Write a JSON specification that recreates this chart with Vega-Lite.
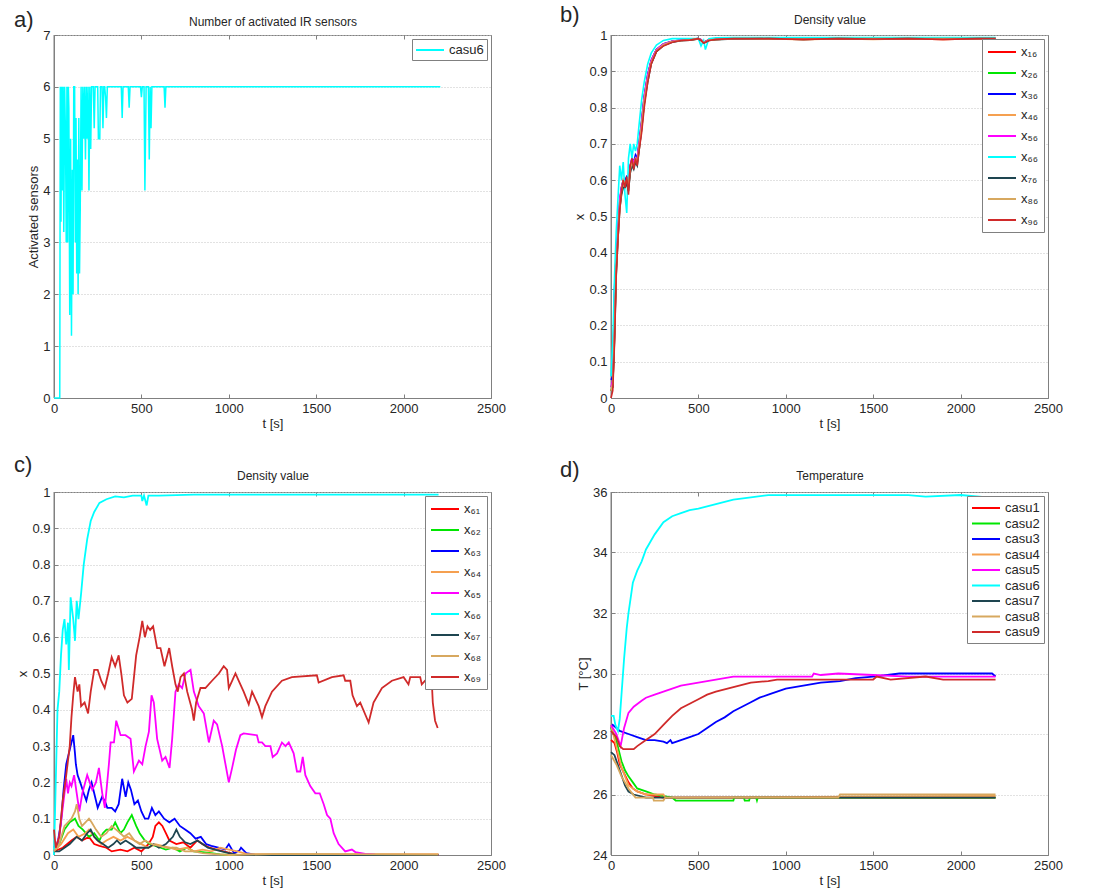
{
"$schema": "https://vega.github.io/schema/vega-lite/v6.json",
"background": "white",
"padding": {"left": 13, "top": 3, "right": 5, "bottom": 5},
"config": {
  "font": "Liberation Sans",
  "view": {"stroke": "#808080", "strokeWidth": 1},
  "axis": {"labelFont": "Liberation Sans", "labelFontSize": 13, "labelColor": "#262626", "titleFont": "Liberation Sans", "titleFontSize": 13, "titleFontWeight": "normal", "titleColor": "#262626", "domainColor": "#808080", "gridColor": "#c4c4c4", "gridDash": [1, 2], "ticks": true, "tickSize": -4, "tickColor": "#808080", "labelPadding": 8, "titlePadding": 2},
  "axisX": {"labelFlush": false, "format": "d"},
  "legend": {"labelFont": "Liberation Sans", "labelFontSize": 13, "labelColor": "#262626", "fillColor": "white", "strokeColor": "#808080", "padding": 5, "orient": "top-right", "offset": 4, "symbolType": "M-1,0H3", "symbolSize": 196, "symbolStrokeWidth": 2, "labelOffset": 18},
  "title": {"font": "Liberation Sans", "fontSize": 22, "fontWeight": "normal", "anchor": "start", "frame": "group", "color": "#262626"}
},
"columns": 2,
"spacing": {"row": 94, "column": 120},
"bounds": "flush",
"resolve": {"scale": {"color": "independent"}, "legend": {"color": "independent"}},
"datasets": {
  "a": [
    {"t":0,"v":0},{"t":25,"v":0},{"t":33,"v":0},{"t":36,"v":6},{"t":40,"v":3.4},{"t":44,"v":6},{"t":48,"v":4},{"t":52,"v":6},{"t":56,"v":3.2},{"t":61,"v":6},{"t":66,"v":5},{"t":70,"v":3},{"t":74,"v":6},{"t":78,"v":3},{"t":82,"v":6},{"t":85,"v":5.6},{"t":90,"v":1.6},{"t":95,"v":5},{"t":100,"v":1.2},{"t":105,"v":4.4},{"t":109,"v":2.0},{"t":113,"v":6},{"t":118,"v":6},{"t":122,"v":3.0},{"t":126,"v":5.4},{"t":130,"v":2.4},{"t":134,"v":4.6},{"t":138,"v":2.0},{"t":142,"v":5.4},{"t":146,"v":2.4},{"t":150,"v":3.6},{"t":155,"v":6},{"t":160,"v":4},{"t":165,"v":6},{"t":170,"v":5},{"t":175,"v":6},{"t":180,"v":4.6},{"t":185,"v":6},{"t":190,"v":5},{"t":195,"v":6},{"t":200,"v":4},{"t":205,"v":6},{"t":210,"v":4.8},{"t":215,"v":6},{"t":225,"v":6},{"t":230,"v":5.2},{"t":235,"v":6},{"t":250,"v":6},{"t":254,"v":5},{"t":262,"v":5},{"t":266,"v":6},{"t":275,"v":6},{"t":280,"v":5.2},{"t":285,"v":6},{"t":290,"v":6},{"t":295,"v":5.8},{"t":300,"v":5.4},{"t":305,"v":6},{"t":385,"v":6},{"t":390,"v":5.4},{"t":395,"v":6},{"t":425,"v":6},{"t":430,"v":5.6},{"t":435,"v":6},{"t":495,"v":6},{"t":500,"v":5.8},{"t":505,"v":6},{"t":515,"v":6},{"t":520,"v":4},{"t":527,"v":6},{"t":540,"v":6},{"t":545,"v":4.6},{"t":550,"v":6},{"t":555,"v":5.2},{"t":560,"v":6},{"t":630,"v":6},{"t":635,"v":5.6},{"t":640,"v":6},{"t":2210,"v":6}
  ],
  "b": [
    {"t":0,"x₁₆":0.02,"x₂₆":0.03,"x₃₆":0.05,"x₄₆":0.02,"x₅₆":0.03,"x₆₆":0.06,"x₇₆":0.02,"x₈₆":0.02,"x₉₆":0.0},
    {"t":10,"x₁₆":0.03,"x₂₆":0.04,"x₃₆":0.06,"x₄₆":0.03,"x₅₆":0.05,"x₆₆":0.15,"x₇₆":0.03,"x₈₆":0.04,"x₉₆":0.02},
    {"t":20,"x₁₆":0.17,"x₂₆":0.2,"x₃₆":0.3,"x₄₆":0.18,"x₅₆":0.22,"x₆₆":0.33,"x₇₆":0.16,"x₈₆":0.19,"x₉₆":0.15},
    {"t":30,"x₁₆":0.36,"x₂₆":0.37,"x₃₆":0.4,"x₄₆":0.35,"x₅₆":0.38,"x₆₆":0.46,"x₇₆":0.34,"x₈₆":0.36,"x₉₆":0.34},
    {"t":40,"x₁₆":0.45,"x₂₆":0.46,"x₃₆":0.47,"x₄₆":0.44,"x₅₆":0.47,"x₆₆":0.55,"x₇₆":0.44,"x₈₆":0.45,"x₉₆":0.44},
    {"t":50,"x₁₆":0.53,"x₂₆":0.54,"x₃₆":0.54,"x₄₆":0.52,"x₅₆":0.55,"x₆₆":0.64,"x₇₆":0.52,"x₈₆":0.53,"x₉₆":0.52},
    {"t":60,"x₁₆":0.57,"x₂₆":0.58,"x₃₆":0.58,"x₄₆":0.56,"x₅₆":0.58,"x₆₆":0.6,"x₇₆":0.56,"x₈₆":0.57,"x₉₆":0.57},
    {"t":70,"x₁₆":0.59,"x₂₆":0.6,"x₃₆":0.6,"x₄₆":0.59,"x₅₆":0.6,"x₆₆":0.65,"x₇₆":0.58,"x₈₆":0.6,"x₉₆":0.6},
    {"t":80,"x₁₆":0.59,"x₂₆":0.58,"x₃₆":0.6,"x₄₆":0.58,"x₅₆":0.59,"x₆₆":0.56,"x₇₆":0.58,"x₈₆":0.59,"x₉₆":0.58},
    {"t":90,"x₁₆":0.6,"x₂₆":0.61,"x₃₆":0.61,"x₄₆":0.6,"x₅₆":0.6,"x₆₆":0.51,"x₇₆":0.59,"x₈₆":0.6,"x₉₆":0.61},
    {"t":100,"x₁₆":0.58,"x₂₆":0.59,"x₃₆":0.6,"x₄₆":0.58,"x₅₆":0.6,"x₆₆":0.66,"x₇₆":0.57,"x₈₆":0.59,"x₉₆":0.56},
    {"t":110,"x₁₆":0.63,"x₂₆":0.63,"x₃₆":0.64,"x₄₆":0.62,"x₅₆":0.64,"x₆₆":0.7,"x₇₆":0.62,"x₈₆":0.63,"x₉₆":0.64},
    {"t":120,"x₁₆":0.65,"x₂₆":0.65,"x₃₆":0.66,"x₄₆":0.65,"x₅₆":0.66,"x₆₆":0.66,"x₇₆":0.64,"x₈₆":0.65,"x₉₆":0.66},
    {"t":130,"x₁₆":0.64,"x₂₆":0.65,"x₃₆":0.65,"x₄₆":0.64,"x₅₆":0.65,"x₆₆":0.7,"x₇₆":0.63,"x₈₆":0.64,"x₉₆":0.63},
    {"t":140,"x₁₆":0.66,"x₂₆":0.66,"x₃₆":0.67,"x₄₆":0.65,"x₅₆":0.66,"x₆₆":0.68,"x₇₆":0.65,"x₈₆":0.66,"x₉₆":0.66},
    {"t":150,"x₁₆":0.65,"x₂₆":0.66,"x₃₆":0.66,"x₄₆":0.65,"x₅₆":0.66,"x₆₆":0.7,"x₇₆":0.64,"x₈₆":0.65,"x₉₆":0.64},
    {"t":160,"x₁₆":0.69,"x₂₆":0.7,"x₃₆":0.7,"x₄₆":0.68,"x₅₆":0.7,"x₆₆":0.75,"x₇₆":0.68,"x₈₆":0.69,"x₉₆":0.68},
    {"t":175,"x₁₆":0.75,"x₂₆":0.76,"x₃₆":0.76,"x₄₆":0.74,"x₅₆":0.76,"x₆₆":0.82,"x₇₆":0.74,"x₈₆":0.75,"x₉₆":0.73},
    {"t":190,"x₁₆":0.82,"x₂₆":0.83,"x₃₆":0.83,"x₄₆":0.81,"x₅₆":0.83,"x₆₆":0.87,"x₇₆":0.81,"x₈₆":0.82,"x₉₆":0.8},
    {"t":210,"x₁₆":0.88,"x₂₆":0.89,"x₃₆":0.89,"x₄₆":0.88,"x₅₆":0.89,"x₆₆":0.92,"x₇₆":0.87,"x₈₆":0.88,"x₉₆":0.87},
    {"t":230,"x₁₆":0.925,"x₂₆":0.93,"x₃₆":0.93,"x₄₆":0.92,"x₅₆":0.93,"x₆₆":0.95,"x₇₆":0.92,"x₈₆":0.925,"x₉₆":0.92},
    {"t":260,"x₁₆":0.957,"x₂₆":0.96,"x₃₆":0.96,"x₄₆":0.955,"x₅₆":0.96,"x₆₆":0.972,"x₇₆":0.954,"x₈₆":0.957,"x₉₆":0.955},
    {"t":300,"x₁₆":0.973,"x₂₆":0.975,"x₃₆":0.975,"x₄₆":0.972,"x₅₆":0.975,"x₆₆":0.985,"x₇₆":0.971,"x₈₆":0.973,"x₉₆":0.97},
    {"t":350,"x₁₆":0.982,"x₂₆":0.983,"x₃₆":0.983,"x₄₆":0.981,"x₅₆":0.983,"x₆₆":0.99,"x₇₆":0.98,"x₈₆":0.982,"x₉₆":0.98},
    {"t":400,"x₁₆":0.985,"x₂₆":0.986,"x₃₆":0.986,"x₄₆":0.985,"x₅₆":0.986,"x₆₆":0.99,"x₇₆":0.984,"x₈₆":0.985,"x₉₆":0.985},
    {"t":450,"x₁₆":0.987,"x₂₆":0.988,"x₃₆":0.988,"x₄₆":0.986,"x₅₆":0.988,"x₆₆":0.99,"x₇₆":0.986,"x₈₆":0.987,"x₉₆":0.986},
    {"t":500,"x₁₆":0.99,"x₂₆":0.99,"x₃₆":0.99,"x₄₆":0.989,"x₅₆":0.99,"x₆₆":0.99,"x₇₆":0.989,"x₈₆":0.99,"x₉₆":0.99},
    {"t":515,"x₁₆":0.986,"x₂₆":0.987,"x₃₆":0.987,"x₄₆":0.985,"x₅₆":0.987,"x₆₆":0.97,"x₇₆":0.985,"x₈₆":0.986,"x₉₆":0.985},
    {"t":530,"x₁₆":0.979,"x₂₆":0.98,"x₃₆":0.98,"x₄₆":0.978,"x₅₆":0.98,"x₆₆":0.985,"x₇₆":0.978,"x₈₆":0.979,"x₉₆":0.978},
    {"t":540,"x₁₆":0.981,"x₂₆":0.982,"x₃₆":0.982,"x₄₆":0.98,"x₅₆":0.982,"x₆₆":0.96,"x₇₆":0.98,"x₈₆":0.981,"x₉₆":0.98},
    {"t":560,"x₁₆":0.986,"x₂₆":0.987,"x₃₆":0.987,"x₄₆":0.985,"x₅₆":0.987,"x₆₆":0.99,"x₇₆":0.985,"x₈₆":0.986,"x₉₆":0.985},
    {"t":600,"x₁₆":0.988,"x₂₆":0.989,"x₃₆":0.989,"x₄₆":0.988,"x₅₆":0.989,"x₆₆":0.992,"x₇₆":0.987,"x₈₆":0.988,"x₉₆":0.988},
    {"t":700,"x₁₆":0.99,"x₂₆":0.99,"x₃₆":0.99,"x₄₆":0.989,"x₅₆":0.99,"x₆₆":0.993,"x₇₆":0.989,"x₈₆":0.99,"x₉₆":0.99},
    {"t":900,"x₁₆":0.99,"x₂₆":0.991,"x₃₆":0.991,"x₄₆":0.99,"x₅₆":0.991,"x₆₆":0.993,"x₇₆":0.99,"x₈₆":0.99,"x₉₆":0.99},
    {"t":1100,"x₁₆":0.988,"x₂₆":0.99,"x₃₆":0.99,"x₄₆":0.987,"x₅₆":0.99,"x₆₆":0.993,"x₇₆":0.988,"x₈₆":0.989,"x₉₆":0.988},
    {"t":1300,"x₁₆":0.99,"x₂₆":0.991,"x₃₆":0.991,"x₄₆":0.99,"x₅₆":0.991,"x₆₆":0.993,"x₇₆":0.99,"x₈₆":0.99,"x₉₆":0.99},
    {"t":1500,"x₁₆":0.989,"x₂₆":0.99,"x₃₆":0.99,"x₄₆":0.988,"x₅₆":0.99,"x₆₆":0.993,"x₇₆":0.989,"x₈₆":0.99,"x₉₆":0.989},
    {"t":1700,"x₁₆":0.99,"x₂₆":0.991,"x₃₆":0.991,"x₄₆":0.99,"x₅₆":0.991,"x₆₆":0.993,"x₇₆":0.99,"x₈₆":0.99,"x₉₆":0.99},
    {"t":1900,"x₁₆":0.988,"x₂₆":0.99,"x₃₆":0.99,"x₄₆":0.988,"x₅₆":0.99,"x₆₆":0.993,"x₇₆":0.989,"x₈₆":0.99,"x₉₆":0.988},
    {"t":2100,"x₁₆":0.99,"x₂₆":0.991,"x₃₆":0.991,"x₄₆":0.99,"x₅₆":0.991,"x₆₆":0.993,"x₇₆":0.99,"x₈₆":0.99,"x₉₆":0.99},
    {"t":2200,"x₁₆":0.99,"x₂₆":0.99,"x₃₆":0.99,"x₄₆":0.99,"x₅₆":0.99,"x₆₆":0.993,"x₇₆":0.99,"x₈₆":0.99,"x₉₆":0.99}
  ],
  "c": [
    {"s":"x₆₁","t":0,"v":0.01},{"s":"x₆₁","t":50,"v":0.02},{"s":"x₆₁","t":100,"v":0.04},{"s":"x₆₁","t":130,"v":0.05},{"s":"x₆₁","t":160,"v":0.04},{"s":"x₆₁","t":200,"v":0.05},{"s":"x₆₁","t":230,"v":0.03},{"s":"x₆₁","t":260,"v":0.025},{"s":"x₆₁","t":300,"v":0.02},{"s":"x₆₁","t":330,"v":0.01},{"s":"x₆₁","t":380,"v":0.015},{"s":"x₆₁","t":420,"v":0.01},{"s":"x₆₁","t":460,"v":0.02},{"s":"x₆₁","t":500,"v":0.01},{"s":"x₆₁","t":540,"v":0.03},{"s":"x₆₁","t":565,"v":0.05},{"s":"x₆₁","t":580,"v":0.08},{"s":"x₆₁","t":600,"v":0.09},{"s":"x₆₁","t":620,"v":0.08},{"s":"x₆₁","t":640,"v":0.06},{"s":"x₆₁","t":660,"v":0.04},{"s":"x₆₁","t":700,"v":0.03},{"s":"x₆₁","t":740,"v":0.035},{"s":"x₆₁","t":780,"v":0.02},{"s":"x₆₁","t":820,"v":0.04},{"s":"x₆₁","t":850,"v":0.03},{"s":"x₆₁","t":890,"v":0.02},{"s":"x₆₁","t":930,"v":0.015},{"s":"x₆₁","t":970,"v":0.01},{"s":"x₆₁","t":1010,"v":0.005},{"s":"x₆₁","t":1050,"v":0},{"s":"x₆₁","t":2200,"v":0},
    {"s":"x₆₂","t":0,"v":0.01},{"s":"x₆₂","t":30,"v":0.03},{"s":"x₆₂","t":60,"v":0.07},{"s":"x₆₂","t":90,"v":0.09},{"s":"x₆₂","t":120,"v":0.1},{"s":"x₆₂","t":140,"v":0.08},{"s":"x₆₂","t":165,"v":0.07},{"s":"x₆₂","t":200,"v":0.05},{"s":"x₆₂","t":230,"v":0.06},{"s":"x₆₂","t":260,"v":0.04},{"s":"x₆₂","t":280,"v":0.06},{"s":"x₆₂","t":300,"v":0.07},{"s":"x₆₂","t":330,"v":0.07},{"s":"x₆₂","t":350,"v":0.09},{"s":"x₆₂","t":380,"v":0.06},{"s":"x₆₂","t":400,"v":0.07},{"s":"x₆₂","t":420,"v":0.09},{"s":"x₆₂","t":445,"v":0.11},{"s":"x₆₂","t":470,"v":0.08},{"s":"x₆₂","t":490,"v":0.06},{"s":"x₆₂","t":520,"v":0.04},{"s":"x₆₂","t":550,"v":0.03},{"s":"x₆₂","t":580,"v":0.025},{"s":"x₆₂","t":610,"v":0.02},{"s":"x₆₂","t":640,"v":0.015},{"s":"x₆₂","t":680,"v":0.02},{"s":"x₆₂","t":720,"v":0.01},{"s":"x₆₂","t":760,"v":0.02},{"s":"x₆₂","t":800,"v":0.01},{"s":"x₆₂","t":850,"v":0.008},{"s":"x₆₂","t":900,"v":0.005},{"s":"x₆₂","t":950,"v":0.002},{"s":"x₆₂","t":1000,"v":0},{"s":"x₆₂","t":2200,"v":0},
    {"s":"x₆₃","t":0,"v":0.02},{"s":"x₆₃","t":20,"v":0.03},{"s":"x₆₃","t":40,"v":0.09},{"s":"x₆₃","t":55,"v":0.18},{"s":"x₆₃","t":70,"v":0.25},{"s":"x₆₃","t":80,"v":0.27},{"s":"x₆₃","t":95,"v":0.3},{"s":"x₆₃","t":110,"v":0.33},{"s":"x₆₃","t":120,"v":0.28},{"s":"x₆₃","t":125,"v":0.25},{"s":"x₆₃","t":135,"v":0.22},{"s":"x₆₃","t":150,"v":0.2},{"s":"x₆₃","t":170,"v":0.17},{"s":"x₆₃","t":185,"v":0.15},{"s":"x₆₃","t":200,"v":0.18},{"s":"x₆₃","t":215,"v":0.2},{"s":"x₆₃","t":230,"v":0.17},{"s":"x₆₃","t":250,"v":0.13},{"s":"x₆₃","t":275,"v":0.16},{"s":"x₆₃","t":290,"v":0.15},{"s":"x₆₃","t":305,"v":0.13},{"s":"x₆₃","t":330,"v":0.13},{"s":"x₆₃","t":350,"v":0.12},{"s":"x₆₃","t":370,"v":0.14},{"s":"x₆₃","t":390,"v":0.21},{"s":"x₆₃","t":410,"v":0.16},{"s":"x₆₃","t":425,"v":0.2},{"s":"x₆₃","t":440,"v":0.18},{"s":"x₆₃","t":460,"v":0.14},{"s":"x₆₃","t":480,"v":0.15},{"s":"x₆₃","t":500,"v":0.12},{"s":"x₆₃","t":520,"v":0.1},{"s":"x₆₃","t":540,"v":0.1},{"s":"x₆₃","t":560,"v":0.13},{"s":"x₆₃","t":580,"v":0.11},{"s":"x₆₃","t":600,"v":0.12},{"s":"x₆₃","t":630,"v":0.1},{"s":"x₆₃","t":660,"v":0.09},{"s":"x₆₃","t":690,"v":0.1},{"s":"x₆₃","t":720,"v":0.08},{"s":"x₆₃","t":750,"v":0.07},{"s":"x₆₃","t":780,"v":0.06},{"s":"x₆₃","t":810,"v":0.045},{"s":"x₆₃","t":840,"v":0.05},{"s":"x₆₃","t":870,"v":0.03},{"s":"x₆₃","t":900,"v":0.025},{"s":"x₆₃","t":940,"v":0.02},{"s":"x₆₃","t":980,"v":0.015},{"s":"x₆₃","t":1000,"v":0.03},{"s":"x₆₃","t":1030,"v":0.005},{"s":"x₆₃","t":1060,"v":0.012},{"s":"x₆₃","t":1070,"v":0.02},{"s":"x₆₃","t":1100,"v":0.005},{"s":"x₆₃","t":1150,"v":0.001},{"s":"x₆₃","t":1200,"v":0},{"s":"x₆₃","t":2200,"v":0},
    {"s":"x₆₄","t":0,"v":0.01},{"s":"x₆₄","t":40,"v":0.03},{"s":"x₆₄","t":80,"v":0.06},{"s":"x₆₄","t":110,"v":0.07},{"s":"x₆₄","t":140,"v":0.05},{"s":"x₆₄","t":180,"v":0.06},{"s":"x₆₄","t":200,"v":0.07},{"s":"x₆₄","t":230,"v":0.05},{"s":"x₆₄","t":270,"v":0.03},{"s":"x₆₄","t":300,"v":0.04},{"s":"x₆₄","t":340,"v":0.05},{"s":"x₆₄","t":380,"v":0.04},{"s":"x₆₄","t":420,"v":0.05},{"s":"x₆₄","t":460,"v":0.04},{"s":"x₆₄","t":500,"v":0.03},{"s":"x₆₄","t":540,"v":0.02},{"s":"x₆₄","t":580,"v":0.03},{"s":"x₆₄","t":620,"v":0.025},{"s":"x₆₄","t":660,"v":0.02},{"s":"x₆₄","t":700,"v":0.015},{"s":"x₆₄","t":760,"v":0.02},{"s":"x₆₄","t":800,"v":0.01},{"s":"x₆₄","t":850,"v":0.015},{"s":"x₆₄","t":900,"v":0.01},{"s":"x₆₄","t":950,"v":0.02},{"s":"x₆₄","t":1000,"v":0.015},{"s":"x₆₄","t":1050,"v":0.01},{"s":"x₆₄","t":1100,"v":0.003},{"s":"x₆₄","t":1150,"v":0.002},{"s":"x₆₄","t":2200,"v":0.002},
    {"s":"x₆₅","t":0,"v":0.01},{"s":"x₆₅","t":30,"v":0.05},{"s":"x₆₅","t":50,"v":0.13},{"s":"x₆₅","t":70,"v":0.21},{"s":"x₆₅","t":80,"v":0.17},{"s":"x₆₅","t":90,"v":0.2},{"s":"x₆₅","t":100,"v":0.19},{"s":"x₆₅","t":115,"v":0.22},{"s":"x₆₅","t":130,"v":0.17},{"s":"x₆₅","t":145,"v":0.12},{"s":"x₆₅","t":162,"v":0.17},{"s":"x₆₅","t":190,"v":0.22},{"s":"x₆₅","t":219,"v":0.18},{"s":"x₆₅","t":240,"v":0.2},{"s":"x₆₅","t":257,"v":0.24},{"s":"x₆₅","t":276,"v":0.17},{"s":"x₆₅","t":291,"v":0.13},{"s":"x₆₅","t":314,"v":0.25},{"s":"x₆₅","t":324,"v":0.31},{"s":"x₆₅","t":343,"v":0.31},{"s":"x₆₅","t":356,"v":0.37},{"s":"x₆₅","t":381,"v":0.33},{"s":"x₆₅","t":409,"v":0.33},{"s":"x₆₅","t":438,"v":0.32},{"s":"x₆₅","t":457,"v":0.23},{"s":"x₆₅","t":486,"v":0.26},{"s":"x₆₅","t":505,"v":0.25},{"s":"x₆₅","t":524,"v":0.3},{"s":"x₆₅","t":543,"v":0.34},{"s":"x₆₅","t":558,"v":0.44},{"s":"x₆₅","t":571,"v":0.42},{"s":"x₆₅","t":590,"v":0.32},{"s":"x₆₅","t":619,"v":0.26},{"s":"x₆₅","t":638,"v":0.27},{"s":"x₆₅","t":661,"v":0.24},{"s":"x₆₅","t":676,"v":0.32},{"s":"x₆₅","t":695,"v":0.45},{"s":"x₆₅","t":714,"v":0.47},{"s":"x₆₅","t":733,"v":0.46},{"s":"x₆₅","t":752,"v":0.5},{"s":"x₆₅","t":781,"v":0.51},{"s":"x₆₅","t":800,"v":0.45},{"s":"x₆₅","t":828,"v":0.41},{"s":"x₆₅","t":857,"v":0.39},{"s":"x₆₅","t":886,"v":0.31},{"s":"x₆₅","t":914,"v":0.37},{"s":"x₆₅","t":933,"v":0.36},{"s":"x₆₅","t":962,"v":0.3},{"s":"x₆₅","t":1000,"v":0.2},{"s":"x₆₅","t":1019,"v":0.24},{"s":"x₆₅","t":1041,"v":0.29},{"s":"x₆₅","t":1066,"v":0.33},{"s":"x₆₅","t":1085,"v":0.335},{"s":"x₆₅","t":1161,"v":0.33},{"s":"x₆₅","t":1171,"v":0.31},{"s":"x₆₅","t":1190,"v":0.31},{"s":"x₆₅","t":1209,"v":0.3},{"s":"x₆₅","t":1238,"v":0.3},{"s":"x₆₅","t":1251,"v":0.27},{"s":"x₆₅","t":1276,"v":0.28},{"s":"x₆₅","t":1304,"v":0.31},{"s":"x₆₅","t":1324,"v":0.3},{"s":"x₆₅","t":1343,"v":0.31},{"s":"x₆₅","t":1371,"v":0.28},{"s":"x₆₅","t":1390,"v":0.23},{"s":"x₆₅","t":1409,"v":0.23},{"s":"x₆₅","t":1423,"v":0.27},{"s":"x₆₅","t":1438,"v":0.22},{"s":"x₆₅","t":1466,"v":0.19},{"s":"x₆₅","t":1495,"v":0.17},{"s":"x₆₅","t":1520,"v":0.17},{"s":"x₆₅","t":1543,"v":0.14},{"s":"x₆₅","t":1562,"v":0.11},{"s":"x₆₅","t":1581,"v":0.1},{"s":"x₆₅","t":1600,"v":0.06},{"s":"x₆₅","t":1628,"v":0.03},{"s":"x₆₅","t":1666,"v":0.01},{"s":"x₆₅","t":1704,"v":0.015},{"s":"x₆₅","t":1724,"v":0.008},{"s":"x₆₅","t":1781,"v":0.003},{"s":"x₆₅","t":1838,"v":0.001},{"s":"x₆₅","t":2200,"v":0},
    {"s":"x₆₆","t":0,"v":0},{"s":"x₆₆","t":10,"v":0.2},{"s":"x₆₆","t":20,"v":0.4},{"s":"x₆₆","t":30,"v":0.45},{"s":"x₆₆","t":40,"v":0.55},{"s":"x₆₆","t":50,"v":0.62},{"s":"x₆₆","t":60,"v":0.65},{"s":"x₆₆","t":70,"v":0.58},{"s":"x₆₆","t":80,"v":0.64},{"s":"x₆₆","t":85,"v":0.51},{"s":"x₆₆","t":95,"v":0.71},{"s":"x₆₆","t":110,"v":0.65},{"s":"x₆₆","t":120,"v":0.59},{"s":"x₆₆","t":130,"v":0.7},{"s":"x₆₆","t":140,"v":0.65},{"s":"x₆₆","t":155,"v":0.72},{"s":"x₆₆","t":170,"v":0.8},{"s":"x₆₆","t":190,"v":0.87},{"s":"x₆₆","t":210,"v":0.92},{"s":"x₆₆","t":230,"v":0.945},{"s":"x₆₆","t":260,"v":0.97},{"s":"x₆₆","t":300,"v":0.98},{"s":"x₆₆","t":350,"v":0.988},{"s":"x₆₆","t":400,"v":0.985},{"s":"x₆₆","t":450,"v":0.99},{"s":"x₆₆","t":500,"v":0.99},{"s":"x₆₆","t":505,"v":0.975},{"s":"x₆₆","t":515,"v":0.99},{"s":"x₆₆","t":530,"v":0.963},{"s":"x₆₆","t":540,"v":0.99},{"s":"x₆₆","t":600,"v":0.99},{"s":"x₆₆","t":800,"v":0.993},{"s":"x₆₆","t":2200,"v":0.993},
    {"s":"x₆₇","t":0,"v":0.01},{"s":"x₆₇","t":30,"v":0.01},{"s":"x₆₇","t":60,"v":0.02},{"s":"x₆₇","t":90,"v":0.03},{"s":"x₆₇","t":110,"v":0.04},{"s":"x₆₇","t":130,"v":0.05},{"s":"x₆₇","t":160,"v":0.04},{"s":"x₆₇","t":190,"v":0.06},{"s":"x₆₇","t":210,"v":0.07},{"s":"x₆₇","t":230,"v":0.05},{"s":"x₆₇","t":250,"v":0.04},{"s":"x₆₇","t":280,"v":0.03},{"s":"x₆₇","t":310,"v":0.02},{"s":"x₆₇","t":340,"v":0.03},{"s":"x₆₇","t":360,"v":0.04},{"s":"x₆₇","t":380,"v":0.03},{"s":"x₆₇","t":410,"v":0.04},{"s":"x₆₇","t":440,"v":0.03},{"s":"x₆₇","t":470,"v":0.02},{"s":"x₆₇","t":500,"v":0.02},{"s":"x₆₇","t":540,"v":0.02},{"s":"x₆₇","t":570,"v":0.03},{"s":"x₆₇","t":600,"v":0.02},{"s":"x₆₇","t":640,"v":0.03},{"s":"x₆₇","t":680,"v":0.05},{"s":"x₆₇","t":700,"v":0.07},{"s":"x₆₇","t":720,"v":0.05},{"s":"x₆₇","t":750,"v":0.035},{"s":"x₆₇","t":780,"v":0.03},{"s":"x₆₇","t":820,"v":0.04},{"s":"x₆₇","t":850,"v":0.03},{"s":"x₆₇","t":880,"v":0.02},{"s":"x₆₇","t":920,"v":0.015},{"s":"x₆₇","t":960,"v":0.01},{"s":"x₆₇","t":1000,"v":0.005},{"s":"x₆₇","t":1050,"v":0},{"s":"x₆₇","t":2200,"v":0},
    {"s":"x₆₈","t":0,"v":0.01},{"s":"x₆₈","t":30,"v":0.03},{"s":"x₆₈","t":60,"v":0.08},{"s":"x₆₈","t":80,"v":0.09},{"s":"x₆₈","t":100,"v":0.1},{"s":"x₆₈","t":120,"v":0.12},{"s":"x₆₈","t":130,"v":0.14},{"s":"x₆₈","t":145,"v":0.1},{"s":"x₆₈","t":160,"v":0.08},{"s":"x₆₈","t":180,"v":0.09},{"s":"x₆₈","t":200,"v":0.1},{"s":"x₆₈","t":215,"v":0.09},{"s":"x₆₈","t":240,"v":0.07},{"s":"x₆₈","t":270,"v":0.05},{"s":"x₆₈","t":300,"v":0.06},{"s":"x₆₈","t":330,"v":0.08},{"s":"x₆₈","t":355,"v":0.07},{"s":"x₆₈","t":380,"v":0.06},{"s":"x₆₈","t":400,"v":0.05},{"s":"x₆₈","t":430,"v":0.06},{"s":"x₆₈","t":460,"v":0.04},{"s":"x₆₈","t":490,"v":0.03},{"s":"x₆₈","t":520,"v":0.04},{"s":"x₆₈","t":560,"v":0.03},{"s":"x₆₈","t":600,"v":0.025},{"s":"x₆₈","t":650,"v":0.02},{"s":"x₆₈","t":700,"v":0.02},{"s":"x₆₈","t":750,"v":0.01},{"s":"x₆₈","t":800,"v":0.01},{"s":"x₆₈","t":850,"v":0.005},{"s":"x₆₈","t":900,"v":0.003},{"s":"x₆₈","t":1000,"v":0},{"s":"x₆₈","t":1300,"v":0.003},{"s":"x₆₈","t":2200,"v":0.001},
    {"s":"x₆₉","t":0,"v":0.07},{"s":"x₆₉","t":10,"v":0.02},{"s":"x₆₉","t":30,"v":0.05},{"s":"x₆₉","t":50,"v":0.15},{"s":"x₆₉","t":70,"v":0.22},{"s":"x₆₉","t":90,"v":0.3},{"s":"x₆₉","t":100,"v":0.38},{"s":"x₆₉","t":110,"v":0.44},{"s":"x₆₉","t":120,"v":0.49},{"s":"x₆₉","t":135,"v":0.45},{"s":"x₆₉","t":145,"v":0.47},{"s":"x₆₉","t":155,"v":0.41},{"s":"x₆₉","t":175,"v":0.42},{"s":"x₆₉","t":195,"v":0.39},{"s":"x₆₉","t":210,"v":0.45},{"s":"x₆₉","t":230,"v":0.51},{"s":"x₆₉","t":250,"v":0.51},{"s":"x₆₉","t":270,"v":0.48},{"s":"x₆₉","t":290,"v":0.46},{"s":"x₆₉","t":310,"v":0.5},{"s":"x₆₉","t":330,"v":0.545},{"s":"x₆₉","t":350,"v":0.52},{"s":"x₆₉","t":370,"v":0.55},{"s":"x₆₉","t":385,"v":0.5},{"s":"x₆₉","t":400,"v":0.44},{"s":"x₆₉","t":420,"v":0.42},{"s":"x₆₉","t":445,"v":0.43},{"s":"x₆₉","t":470,"v":0.55},{"s":"x₆₉","t":490,"v":0.6},{"s":"x₆₉","t":505,"v":0.645},{"s":"x₆₉","t":520,"v":0.6},{"s":"x₆₉","t":535,"v":0.63},{"s":"x₆₉","t":550,"v":0.62},{"s":"x₆₉","t":567,"v":0.63},{"s":"x₆₉","t":590,"v":0.57},{"s":"x₆₉","t":609,"v":0.57},{"s":"x₆₉","t":632,"v":0.52},{"s":"x₆₉","t":659,"v":0.57},{"s":"x₆₉","t":676,"v":0.52},{"s":"x₆₉","t":695,"v":0.47},{"s":"x₆₉","t":708,"v":0.45},{"s":"x₆₉","t":724,"v":0.49},{"s":"x₆₉","t":743,"v":0.5},{"s":"x₆₉","t":762,"v":0.45},{"s":"x₆₉","t":790,"v":0.4},{"s":"x₆₉","t":800,"v":0.37},{"s":"x₆₉","t":813,"v":0.42},{"s":"x₆₉","t":838,"v":0.46},{"s":"x₆₉","t":866,"v":0.46},{"s":"x₆₉","t":904,"v":0.48},{"s":"x₆₉","t":943,"v":0.5},{"s":"x₆₉","t":971,"v":0.52},{"s":"x₆₉","t":990,"v":0.51},{"s":"x₆₉","t":1000,"v":0.46},{"s":"x₆₉","t":1019,"v":0.48},{"s":"x₆₉","t":1038,"v":0.5},{"s":"x₆₉","t":1057,"v":0.48},{"s":"x₆₉","t":1085,"v":0.45},{"s":"x₆₉","t":1114,"v":0.415},{"s":"x₆₉","t":1133,"v":0.45},{"s":"x₆₉","t":1152,"v":0.43},{"s":"x₆₉","t":1171,"v":0.41},{"s":"x₆₉","t":1190,"v":0.38},{"s":"x₆₉","t":1209,"v":0.41},{"s":"x₆₉","t":1247,"v":0.45},{"s":"x₆₉","t":1304,"v":0.48},{"s":"x₆₉","t":1361,"v":0.49},{"s":"x₆₉","t":1504,"v":0.495},{"s":"x₆₉","t":1514,"v":0.475},{"s":"x₆₉","t":1590,"v":0.49},{"s":"x₆₉","t":1657,"v":0.495},{"s":"x₆₉","t":1666,"v":0.48},{"s":"x₆₉","t":1695,"v":0.48},{"s":"x₆₉","t":1708,"v":0.44},{"s":"x₆₉","t":1733,"v":0.41},{"s":"x₆₉","t":1752,"v":0.42},{"s":"x₆₉","t":1800,"v":0.365},{"s":"x₆₉","t":1828,"v":0.42},{"s":"x₆₉","t":1876,"v":0.46},{"s":"x₆₉","t":1933,"v":0.48},{"s":"x₆₉","t":2000,"v":0.49},{"s":"x₆₉","t":2028,"v":0.47},{"s":"x₆₉","t":2038,"v":0.49},{"s":"x₆₉","t":2095,"v":0.49},{"s":"x₆₉","t":2104,"v":0.47},{"s":"x₆₉","t":2123,"v":0.48},{"s":"x₆₉","t":2161,"v":0.48},{"s":"x₆₉","t":2167,"v":0.42},{"s":"x₆₉","t":2180,"v":0.37},{"s":"x₆₉","t":2195,"v":0.35}
  ],
  "d": [
    {"s":"casu1","t":0,"v":27.8},{"s":"casu1","t":20,"v":27.7},{"s":"casu1","t":35,"v":27.4},{"s":"casu1","t":50,"v":27.0},{"s":"casu1","t":75,"v":26.7},{"s":"casu1","t":100,"v":26.4},{"s":"casu1","t":125,"v":26.2},{"s":"casu1","t":150,"v":26.1},{"s":"casu1","t":200,"v":26.0},{"s":"casu1","t":300,"v":25.9},{"s":"casu1","t":800,"v":25.9},{"s":"casu1","t":2200,"v":25.9},
    {"s":"casu2","t":0,"v":28.2},{"s":"casu2","t":30,"v":27.8},{"s":"casu2","t":60,"v":27.1},{"s":"casu2","t":80,"v":26.8},{"s":"casu2","t":100,"v":26.6},{"s":"casu2","t":125,"v":26.4},{"s":"casu2","t":150,"v":26.2},{"s":"casu2","t":200,"v":26.1},{"s":"casu2","t":250,"v":26.0},{"s":"casu2","t":350,"v":25.9},{"s":"casu2","t":370,"v":25.8},{"s":"casu2","t":700,"v":25.8},{"s":"casu2","t":705,"v":25.9},{"s":"casu2","t":760,"v":25.9},{"s":"casu2","t":765,"v":25.8},{"s":"casu2","t":790,"v":25.8},{"s":"casu2","t":795,"v":25.9},{"s":"casu2","t":830,"v":25.9},{"s":"casu2","t":835,"v":25.8},{"s":"casu2","t":840,"v":25.9},{"s":"casu2","t":2200,"v":25.9},
    {"s":"casu3","t":0,"v":28.2},{"s":"casu3","t":10,"v":28.3},{"s":"casu3","t":50,"v":28.1},{"s":"casu3","t":100,"v":28.0},{"s":"casu3","t":150,"v":27.9},{"s":"casu3","t":200,"v":27.8},{"s":"casu3","t":250,"v":27.8},{"s":"casu3","t":300,"v":27.75},{"s":"casu3","t":320,"v":27.7},{"s":"casu3","t":340,"v":27.8},{"s":"casu3","t":350,"v":27.7},{"s":"casu3","t":400,"v":27.8},{"s":"casu3","t":450,"v":27.9},{"s":"casu3","t":500,"v":28.0},{"s":"casu3","t":550,"v":28.2},{"s":"casu3","t":600,"v":28.4},{"s":"casu3","t":650,"v":28.55},{"s":"casu3","t":700,"v":28.75},{"s":"casu3","t":750,"v":28.9},{"s":"casu3","t":800,"v":29.05},{"s":"casu3","t":850,"v":29.2},{"s":"casu3","t":900,"v":29.3},{"s":"casu3","t":950,"v":29.4},{"s":"casu3","t":1000,"v":29.5},{"s":"casu3","t":1100,"v":29.6},{"s":"casu3","t":1200,"v":29.7},{"s":"casu3","t":1310,"v":29.75},{"s":"casu3","t":1400,"v":29.85},{"s":"casu3","t":1500,"v":29.9},{"s":"casu3","t":1650,"v":30.0},{"s":"casu3","t":2180,"v":30.0},{"s":"casu3","t":2200,"v":29.9},
    {"s":"casu4","t":0,"v":28.3},{"s":"casu4","t":30,"v":27.6},{"s":"casu4","t":60,"v":26.9},{"s":"casu4","t":100,"v":26.3},{"s":"casu4","t":150,"v":26.1},{"s":"casu4","t":200,"v":26.0},{"s":"casu4","t":300,"v":26.0},{"s":"casu4","t":310,"v":25.9},{"s":"casu4","t":2200,"v":25.95},
    {"s":"casu5","t":0,"v":28.3},{"s":"casu5","t":30,"v":28.0},{"s":"casu5","t":55,"v":27.6},{"s":"casu5","t":75,"v":28.2},{"s":"casu5","t":100,"v":28.7},{"s":"casu5","t":130,"v":28.9},{"s":"casu5","t":175,"v":29.1},{"s":"casu5","t":200,"v":29.2},{"s":"casu5","t":250,"v":29.3},{"s":"casu5","t":300,"v":29.4},{"s":"casu5","t":350,"v":29.5},{"s":"casu5","t":400,"v":29.6},{"s":"casu5","t":500,"v":29.7},{"s":"casu5","t":600,"v":29.8},{"s":"casu5","t":700,"v":29.9},{"s":"casu5","t":1150,"v":29.9},{"s":"casu5","t":1160,"v":30.0},{"s":"casu5","t":1200,"v":29.95},{"s":"casu5","t":1300,"v":30.0},{"s":"casu5","t":1500,"v":29.95},{"s":"casu5","t":1700,"v":29.9},{"s":"casu5","t":2200,"v":29.9},
    {"s":"casu6","t":0,"v":28.6},{"s":"casu6","t":15,"v":28.6},{"s":"casu6","t":25,"v":28.3},{"s":"casu6","t":40,"v":28.1},{"s":"casu6","t":50,"v":28.5},{"s":"casu6","t":60,"v":29.3},{"s":"casu6","t":75,"v":30.5},{"s":"casu6","t":90,"v":31.5},{"s":"casu6","t":100,"v":32.0},{"s":"casu6","t":125,"v":33.0},{"s":"casu6","t":150,"v":33.4},{"s":"casu6","t":175,"v":33.7},{"s":"casu6","t":200,"v":34.1},{"s":"casu6","t":250,"v":34.6},{"s":"casu6","t":300,"v":35.0},{"s":"casu6","t":350,"v":35.2},{"s":"casu6","t":400,"v":35.3},{"s":"casu6","t":450,"v":35.4},{"s":"casu6","t":500,"v":35.45},{"s":"casu6","t":600,"v":35.6},{"s":"casu6","t":700,"v":35.75},{"s":"casu6","t":800,"v":35.82},{"s":"casu6","t":900,"v":35.9},{"s":"casu6","t":1200,"v":35.9},{"s":"casu6","t":1700,"v":35.9},{"s":"casu6","t":1800,"v":35.85},{"s":"casu6","t":2000,"v":35.9},{"s":"casu6","t":2200,"v":35.8},
    {"s":"casu7","t":0,"v":27.4},{"s":"casu7","t":20,"v":27.3},{"s":"casu7","t":50,"v":26.8},{"s":"casu7","t":80,"v":26.3},{"s":"casu7","t":100,"v":26.1},{"s":"casu7","t":130,"v":26.0},{"s":"casu7","t":200,"v":25.9},{"s":"casu7","t":2200,"v":25.9},
    {"s":"casu8","t":0,"v":27.3},{"s":"casu8","t":30,"v":27.0},{"s":"casu8","t":60,"v":26.6},{"s":"casu8","t":100,"v":26.2},{"s":"casu8","t":140,"v":25.9},{"s":"casu8","t":240,"v":25.9},{"s":"casu8","t":245,"v":25.8},{"s":"casu8","t":300,"v":25.8},{"s":"casu8","t":310,"v":25.9},{"s":"casu8","t":1300,"v":25.9},{"s":"casu8","t":1310,"v":26.0},{"s":"casu8","t":2200,"v":26.0},
    {"s":"casu9","t":0,"v":28.1},{"s":"casu9","t":30,"v":27.9},{"s":"casu9","t":50,"v":27.6},{"s":"casu9","t":70,"v":27.5},{"s":"casu9","t":130,"v":27.5},{"s":"casu9","t":150,"v":27.6},{"s":"casu9","t":200,"v":27.8},{"s":"casu9","t":250,"v":28.0},{"s":"casu9","t":300,"v":28.3},{"s":"casu9","t":350,"v":28.6},{"s":"casu9","t":400,"v":28.85},{"s":"casu9","t":450,"v":29.0},{"s":"casu9","t":500,"v":29.15},{"s":"casu9","t":550,"v":29.3},{"s":"casu9","t":600,"v":29.4},{"s":"casu9","t":700,"v":29.55},{"s":"casu9","t":800,"v":29.7},{"s":"casu9","t":900,"v":29.75},{"s":"casu9","t":950,"v":29.8},{"s":"casu9","t":1500,"v":29.8},{"s":"casu9","t":1520,"v":29.9},{"s":"casu9","t":1600,"v":29.8},{"s":"casu9","t":1800,"v":29.9},{"s":"casu9","t":1900,"v":29.8},{"s":"casu9","t":2200,"v":29.8}
  ]
},
"concat": [
  {
    "width": 437, "height": 363,
    "title": {"text": "a)", "dx": -40, "offset": -16},
    "layer": [
      {"data": {"values": [{"t": 0}]}, "mark": {"type": "rule", "color": "#808080"},
       "encoding": {"x": {"field": "t", "type": "quantitative", "scale": {"domain": [0, 2500], "nice": false},
         "axis": {"orient": "top", "title": "Number of activated IR sensors", "labels": false, "domain": false, "grid": false, "values": [0, 500, 1000, 1500, 2000, 2500], "titleFontSize": 12, "titlePadding": 6}}}},
      {"data": {"name": "a"}, "transform": [{"calculate": "'casu6'", "as": "s"}], "mark": {"type": "line", "strokeWidth": 1.5},
       "encoding": {
         "x": {"field": "t", "type": "quantitative", "scale": {"domain": [0, 2500], "nice": false}, "axis": {"title": "t [s]", "values": [0, 500, 1000, 1500, 2000, 2500]}},
         "y": {"field": "v", "type": "quantitative", "scale": {"domain": [0, 7], "nice": false}, "axis": {"title": "Activated sensors", "values": [0, 1, 2, 3, 4, 5, 6, 7]}},
         "color": {"field": "s", "type": "nominal", "scale": {"domain": ["casu6"], "range": ["#00ffff"]}, "legend": {"title": null, "padding": 3}}
       }}
    ],
    "resolve": {"axis": {"x": "independent"}}
  },
  {
    "width": 437, "height": 363,
    "title": {"text": "b)", "dx": -51, "offset": -13},
    "layer": [
      {"data": {"values": [{"t": 0}]}, "mark": {"type": "rule", "color": "#808080"},
       "encoding": {"x": {"field": "t", "type": "quantitative", "scale": {"domain": [0, 2500], "nice": false},
         "axis": {"orient": "top", "title": "Density value", "labels": false, "domain": false, "grid": false, "values": [0, 500, 1000, 1500, 2000, 2500], "titleFontSize": 12, "titlePadding": 8}}}},
      {"data": {"name": "b"}, "transform": [{"fold": ["x₁₆","x₂₆","x₃₆","x₄₆","x₅₆","x₆₆","x₇₆","x₈₆","x₉₆"], "as": ["s", "v"]}],
       "mark": {"type": "line", "strokeWidth": 1.6},
       "encoding": {
         "x": {"field": "t", "type": "quantitative", "scale": {"domain": [0, 2500], "nice": false}, "axis": {"title": "t [s]", "values": [0, 500, 1000, 1500, 2000, 2500]}},
         "y": {"field": "v", "type": "quantitative", "scale": {"domain": [0, 1], "nice": false}, "axis": {"title": "x", "values": [0, 0.1, 0.2, 0.3, 0.4, 0.5, 0.6, 0.7, 0.8, 0.9, 1], "format": "~g"}},
         "color": {"field": "s", "type": "nominal", "scale": {"domain": ["x₁₆","x₂₆","x₃₆","x₄₆","x₅₆","x₆₆","x₇₆","x₈₆","x₉₆"], "range": ["#ff0000","#00e600","#0000ff","#f5a050","#ff00ff","#00ffff","#1e4550","#d7a85f","#d02a2a"]}, "legend": {"title": null, "rowPadding": 6}}
       }}
    ],
    "resolve": {"axis": {"x": "independent"}}
  },
  {
    "width": 437, "height": 363,
    "title": {"text": "c)", "dx": -40, "offset": -7},
    "layer": [
      {"data": {"values": [{"t": 0}]}, "mark": {"type": "rule", "color": "#808080"},
       "encoding": {"x": {"field": "t", "type": "quantitative", "scale": {"domain": [0, 2500], "nice": false},
         "axis": {"orient": "top", "title": "Density value", "labels": false, "domain": false, "grid": false, "values": [0, 500, 1000, 1500, 2000, 2500], "titleFontSize": 12, "titlePadding": 9}}}},
      {"data": {"name": "c"}, "mark": {"type": "line", "strokeWidth": 1.8},
       "encoding": {
         "x": {"field": "t", "type": "quantitative", "scale": {"domain": [0, 2500], "nice": false}, "axis": {"title": "t [s]", "values": [0, 500, 1000, 1500, 2000, 2500]}},
         "y": {"field": "v", "type": "quantitative", "scale": {"domain": [0, 1], "nice": false}, "axis": {"title": "x", "values": [0, 0.1, 0.2, 0.3, 0.4, 0.5, 0.6, 0.7, 0.8, 0.9, 1], "format": "~g"}},
         "color": {"field": "s", "type": "nominal", "scale": {"domain": ["x₆₁","x₆₂","x₆₃","x₆₄","x₆₅","x₆₆","x₆₇","x₆₈","x₆₉"], "range": ["#ff0000","#00e600","#0000ff","#f5a050","#ff00ff","#00ffff","#1e4550","#d7a85f","#d02a2a"]}, "legend": {"title": null, "rowPadding": 6}}
       }}
    ],
    "resolve": {"axis": {"x": "independent"}}
  },
  {
    "width": 437, "height": 363,
    "title": {"text": "d)", "dx": -51, "offset": -12},
    "layer": [
      {"data": {"values": [{"t": 0}]}, "mark": {"type": "rule", "color": "#808080"},
       "encoding": {"x": {"field": "t", "type": "quantitative", "scale": {"domain": [0, 2500], "nice": false},
         "axis": {"orient": "top", "title": "Temperature", "labels": false, "domain": false, "grid": false, "values": [0, 500, 1000, 1500, 2000, 2500], "titleFontSize": 12, "titlePadding": 9}}}},
      {"data": {"name": "d"}, "mark": {"type": "line", "strokeWidth": 1.8},
       "encoding": {
         "x": {"field": "t", "type": "quantitative", "scale": {"domain": [0, 2500], "nice": false}, "axis": {"title": "t [s]", "values": [0, 500, 1000, 1500, 2000, 2500]}},
         "y": {"field": "v", "type": "quantitative", "scale": {"domain": [24, 36], "nice": false}, "axis": {"title": "T [°C]", "values": [24, 26, 28, 30, 32, 34, 36]}},
         "color": {"field": "s", "type": "nominal", "scale": {"domain": ["casu1","casu2","casu3","casu4","casu5","casu6","casu7","casu8","casu9"], "range": ["#ff0000","#00e600","#0000ff","#f5a050","#ff00ff","#00ffff","#1e4550","#d7a85f","#d02a2a"]}, "legend": {"title": null, "rowPadding": 0.5, "padding": 4}}
       }}
    ],
    "resolve": {"axis": {"x": "independent"}}
  }
]
}
